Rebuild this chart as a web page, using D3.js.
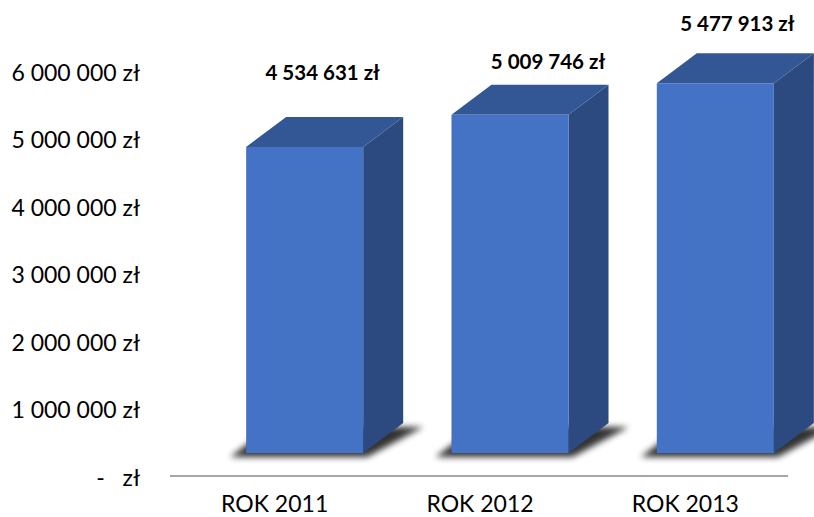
<!DOCTYPE html>
<html>
<head>
<meta charset="utf-8">
<script src="https://cdn.jsdelivr.net/npm/d3@7"></script>
<style>
  body { margin: 0; background: #fff; }
  svg { display: block; font-family: Lato, "Open Sans", sans-serif; }
</style>
</head>
<body>
<svg id="chart" width="814" height="517"></svg>
<script>
// dane
var categories = ["ROK 2011", "ROK 2012", "ROK 2013"];
var values = [4534631, 5009746, 5477913];
var yTicks = [0, 1000000, 2000000, 3000000, 4000000, 5000000, 6000000];
// przesuniecia etykiet wartosci (jak w oryginale)
var labelNudge = [[-22, -44], [-2, -23], [-18, -29]];

var svg = d3.select("#chart");
var depthX = 40, depthY = -30, wall = 25;

var pl = d3.formatLocale({ decimal: ",", thousands: " ", grouping: [3], currency: ["", " zł"] });
var fmt = pl.format(",.0f");

var x = d3.scaleBand()
    .domain(categories)
    .range([202, 818])
    .paddingInner(0.43)
    .paddingOuter(0.215);

var y = d3.scaleLinear()
    .domain([0, 6000000])
    .range([478, 73]);

// cien pod slupkami
var defs = svg.append("defs");
defs.append("filter").attr("id", "blur")
    .attr("x", "-20%").attr("y", "-50%").attr("width", "140%").attr("height", "200%")
  .append("feGaussianBlur").attr("stdDeviation", 3);

// os Y (etykiety)
var yAxis = d3.axisLeft(y)
    .tickValues(yTicks)
    .tickSize(0)
    .tickPadding(0)
    .tickFormat(function(d) { return d === 0 ? "-\u00a0\u00a0\u00a0zł" : fmt(d) + " zł"; });

var gy = svg.append("g")
    .attr("transform", "translate(140,0)")
    .call(yAxis);
gy.select(".domain").remove();
gy.selectAll("text")
    .attr("font-family", "Lato, 'Open Sans', sans-serif")
    .attr("font-size", 23)
    .attr("fill", "#000");

// linia bazowa
svg.append("line")
    .attr("x1", 170).attr("x2", 788)
    .attr("y1", 476).attr("y2", 476)
    .attr("stroke", "#a6a6a6")
    .attr("stroke-width", 2);

var bars = svg.selectAll("g.bar")
    .data(values)
    .enter()
    .append("g")
    .attr("class", "bar");

function pts(arr) {
    return arr.map(function(p) { return p.join(","); }).join(" ");
}

bars.append("polygon")
    .attr("points", function(d, i) {
        var x0 = x(categories[i]) - 16, x1 = x(categories[i]) + x.bandwidth() + 4;
        var b = y(0) - wall + 4;
        return pts([[x0, b], [x1, b], [x1 + depthX + 16, b + depthY], [x0 + depthX, b + depthY]]);
    })
    .attr("fill", "#000")
    .attr("opacity", 0.8)
    .attr("filter", "url(#blur)");

// sciana boczna
bars.append("polygon")
    .attr("points", function(d, i) {
        var x1 = x(categories[i]) + x.bandwidth();
        var t = y(d) - wall, b = y(0) - wall;
        return pts([[x1, t], [x1 + depthX, t + depthY], [x1 + depthX, b + depthY], [x1, b]]);
    })
    .attr("fill", "#2c4a80");

// gora
bars.append("polygon")
    .attr("points", function(d, i) {
        var x0 = x(categories[i]), x1 = x0 + x.bandwidth();
        var t = y(d) - wall;
        return pts([[x0, t], [x1, t], [x1 + depthX, t + depthY], [x0 + depthX, t + depthY]]);
    })
    .attr("fill", "#335695");

// front
bars.append("rect")
    .attr("x", function(d, i) { return x(categories[i]); })
    .attr("y", function(d) { return y(d) - wall; })
    .attr("width", x.bandwidth())
    .attr("height", function(d) { return y(0) - y(d); })
    .attr("fill", "#4472c4");

// etykiety wartosci
bars.append("text")
    .attr("x", function(d, i) { return x(categories[i]) + depthX + x.bandwidth() / 2 + labelNudge[i][0]; })
    .attr("y", function(d, i) { return y(d) - wall + depthY + labelNudge[i][1]; })
    .attr("dy", "0.35em")
    .attr("text-anchor", "middle")
    .attr("font-size", 20.5)
    .attr("font-weight", "bold")
    .attr("fill", "#000")
    .text(function(d) { return fmt(d) + " zł"; });

// etykiety kategorii
svg.selectAll("text.cat")
    .data(categories)
    .enter()
    .append("text")
    .attr("class", "cat")
    .attr("x", function(d) { return x(d) + x.bandwidth() / 2 - 30; })
    .attr("y", 512)
    .attr("text-anchor", "middle")
    .attr("font-size", 23)
    .attr("fill", "#000")
    .text(function(d) { return d; });
</script>
</body>
</html>
